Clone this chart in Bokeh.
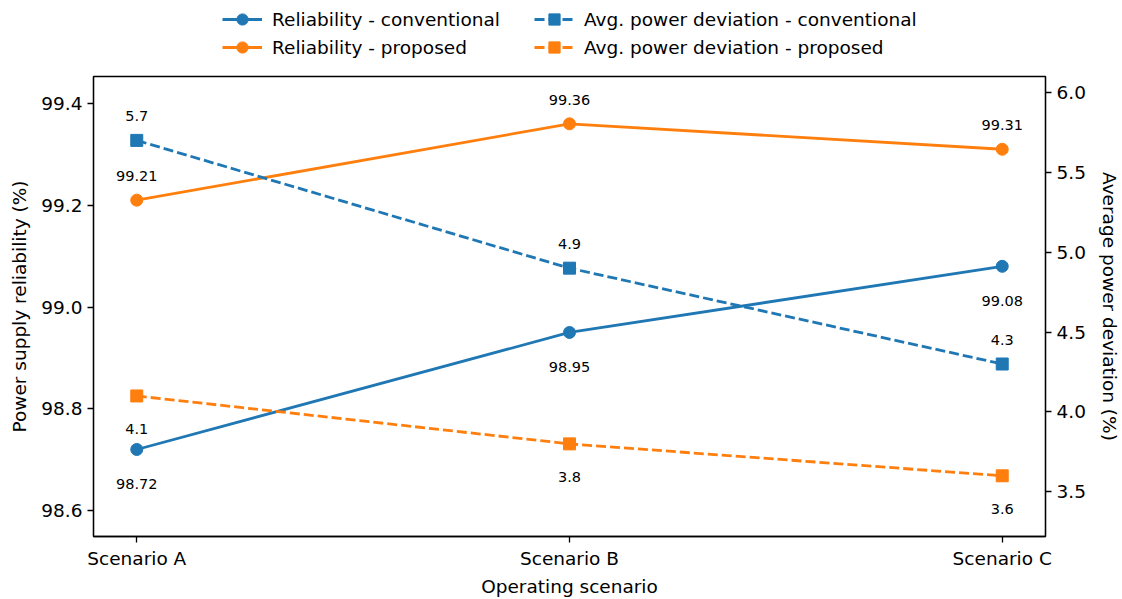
from bokeh.plotting import figure
from bokeh.layouts import column
from bokeh.models import (Range1d, LinearAxis, FixedTicker, PrintfTickFormatter,
                          Legend, LegendItem, ColumnDataSource)
from bokeh.embed import file_html
from bokeh.resources import INLINE
from bokeh.core.properties import value

scenarios = ["Scenario A", "Scenario B", "Scenario C"]
rel_conventional = [98.72, 98.95, 99.08]
rel_proposed = [99.21, 99.36, 99.31]
dev_conventional = [5.7, 4.9, 4.3]
dev_proposed = [4.1, 3.8, 3.6]
left_ticks = [98.6, 98.8, 99.0, 99.2, 99.4]
right_ticks = [3.5, 4.0, 4.5, 5.0, 5.5, 6.0]
series_labels = ["Reliability - conventional", "Reliability - proposed",
                 "Avg. power deviation - conventional", "Avg. power deviation - proposed"]

BLUE = "#1f77b4"
ORANGE = "#ff7f0e"
FONT = "DejaVu Sans"
FS = "18.5px"

xs = list(range(len(scenarios)))

W = 1122
LEG_H = 66
H = 599 - LEG_H
FT_PAGE = 76
FL, FR = 93, 1050
FT = FT_PAGE - LEG_H
FB = 537 - LEG_H

p = figure(width=W, height=H, output_backend="svg", toolbar_location=None,
           x_range=Range1d(-0.1, 2.1), y_range=Range1d(98.549, 99.453),
           min_border_left=FL, min_border_right=W - FR, min_border_top=FT, min_border_bottom=H - FB)
p.extra_y_ranges = {"dev": Range1d(3.22, 6.1)}

p.xgrid.visible = False
p.ygrid.visible = False
p.outline_line_color = "black"
p.outline_line_width = 1.3
p.background_fill_color = "white"
p.border_fill_color = "white"

def style_axis(ax):
    ax.axis_line_color = "black"
    ax.axis_line_width = 1.3
    ax.major_tick_line_color = "black"
    ax.major_tick_line_width = 1.3
    ax.major_tick_out = 6
    ax.major_tick_in = 0
    ax.minor_tick_line_color = None
    ax.major_label_text_font = FONT
    ax.major_label_text_font_size = FS
    ax.major_label_text_color = "black"
    ax.major_label_standoff = 5
    ax.axis_label_text_font = FONT
    ax.axis_label_text_font_size = FS
    ax.axis_label_text_font_style = "normal"
    ax.axis_label_text_color = "black"

xa = p.xaxis[0]
xa.ticker = FixedTicker(ticks=xs)
xa.major_label_overrides = {i: s for i, s in enumerate(scenarios)}
xa.axis_label = "Operating scenario"
style_axis(xa)
xa.axis_label_standoff = 4

ya = p.yaxis[0]
ya.ticker = FixedTicker(ticks=left_ticks)
ya.formatter = PrintfTickFormatter(format="%.1f")
ya.axis_label = "Power supply reliability (%)"
style_axis(ya)
ya.axis_label_standoff = 8

ra = LinearAxis(y_range_name="dev", ticker=FixedTicker(ticks=right_ticks),
                formatter=PrintfTickFormatter(format="%.1f"),
                axis_label="Average power deviation (%)")
style_axis(ra)
ra.axis_label_standoff = 10
p.add_layout(ra, "right")

LW = 2.8
DASH = "10 4"
series = [rel_conventional, rel_proposed, dev_conventional, dev_proposed]
styles = [(BLUE, "solid", "circle", "default"), (ORANGE, "solid", "circle", "default"),
          (BLUE, DASH, "square", "dev"), (ORANGE, DASH, "square", "dev")]

for vals, (c, d, m, rng) in zip(series, styles):
    p.line(xs, vals, line_color=c, line_width=LW, line_dash=d, y_range_name=rng)
    p.scatter(xs, vals, marker=m, size=12, fill_color=c, line_color=c, y_range_name=rng)

def labels(vals, fmt, off, rng="default"):
    src = ColumnDataSource(dict(x=xs, y=vals, t=[fmt % v for v in vals]))
    p.text(x="x", y="y", text="t", source=src, y_offset=off, text_align="center",
           text_baseline="middle", text_font=value(FONT), text_font_size="14.5px",
           text_color="black", y_range_name=rng)

labels(rel_conventional, "%.2f", 35)
labels(rel_proposed, "%.2f", -24)
labels(dev_conventional, "%.1f", -24, "dev")
labels(dev_proposed, "%.1f", 33, "dev")

# legend strip above the plot (its renderers hold the same series, outside its view)
lg = figure(width=W, height=LEG_H, output_backend="svg", toolbar_location=None,
            x_range=Range1d(-0.1, 2.1), y_range=Range1d(-2, -1),
            x_axis_location=None, y_axis_location=None,
            min_border=0, outline_line_color=None)
lg.xgrid.visible = False
lg.ygrid.visible = False
items = []
for lab, vals, (c, d, m, rng) in zip(series_labels, series, styles):
    lr = lg.line(xs, vals, line_color=c, line_width=LW, line_dash=d)
    sr = lg.scatter(xs, vals, marker=m, size=12, fill_color=c, line_color=c)
    items.append(LegendItem(label=lab, renderers=[lr, sr]))
legend = Legend(items=items, ncols=2, location=(222 - FL, LEG_H - 61),
                border_line_color=None, background_fill_alpha=0,
                label_text_font=FONT, label_text_font_size=FS, label_text_color="black",
                glyph_width=40, glyph_height=28, label_height=20, label_width=262,
                spacing=0, padding=0, label_standoff=10, margin=0)
lg.add_layout(legend, "center")

layout = column(lg, p, spacing=0)
open("out.html", "w").write(file_html(layout, INLINE))
